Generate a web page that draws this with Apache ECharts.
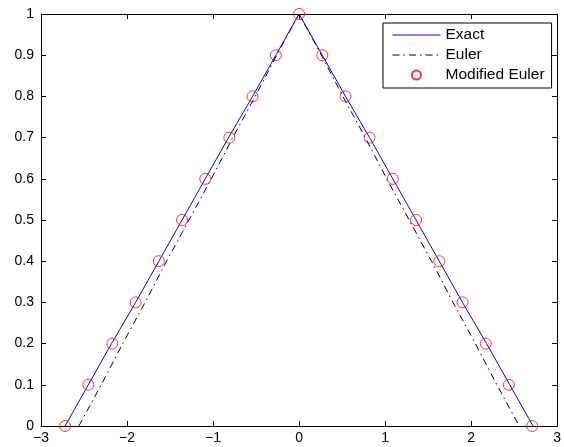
<!DOCTYPE html>
<html><head><meta charset="utf-8">
<script src="https://cdn.jsdelivr.net/npm/echarts@6/dist/echarts.min.js"></script>
<style>html,body{margin:0;padding:0;background:#fff}#c{width:564px;height:447px}</style>
</head><body><div id="c"></div>
<script>
var yValues = [0, 0.1, 0.2, 0.3, 0.4, 0.5, 0.6, 0.7, 0.8, 0.9, 1];
var exactLeftX = [-2.72, -2.45, -2.18, -1.90, -1.63, -1.36, -1.09, -0.82, -0.54, -0.27, 0];
var exactRightX = [2.72, 2.45, 2.18, 1.90, 1.63, 1.36, 1.09, 0.82, 0.54, 0.27, 0];
var eulerLeftX = [-2.56, -2.30, -2.05, -1.79, -1.54, -1.28, -1.02, -0.77, -0.51, -0.26, 0];
var eulerRightX = [2.56, 2.30, 2.05, 1.79, 1.54, 1.28, 1.02, 0.77, 0.51, 0.26, 0];
var modLeftX = [-2.72, -2.45, -2.17, -1.90, -1.63, -1.36, -1.09, -0.81, -0.54, -0.27, 0];
var modRightX = [2.71, 2.44, 2.17, 1.90, 1.63, 1.36, 1.09, 0.82, 0.54, 0.27];
var xTicks = [-3, -2, -1, 0, 1, 2, 3];

function pairs(xs, ys) { return xs.map(function (x, i) { return [x, ys[i]]; }); }
function tri(left, right) {
  var a = pairs(left, yValues);
  var b = pairs(right, yValues).reverse();
  return a.concat(b.slice(1));
}
var exactData = tri(exactLeftX, exactRightX);
var eulerData = tri(eulerLeftX, eulerRightX);
var modData = pairs(modLeftX, yValues).concat(pairs(modRightX, yValues));

var font = 'Liberation Sans, Arial, Helvetica, sans-serif';
function fmtX(v) { return String(v).replace('-', '\u2212'); }
function baseAxis() {
  return {
    type: 'value',
    axisLine: { show: true, onZero: false, lineStyle: { color: '#000', width: 1 } },
    axisTick: { show: true, inside: true, length: 5, lineStyle: { color: '#000' } },
    splitLine: { show: false }
  };
}
var chart = echarts.init(document.getElementById('c'), null, { renderer: 'canvas' });
chart.setOption({
  animation: false,
  backgroundColor: '#fff',
  grid: { left: 41, right: 1, top: 14, bottom: 21, containLabel: false },
  xAxis: [
    Object.assign(baseAxis(), { min: -3, max: 3, interval: 1, position: 'bottom',
      axisLabel: { color: '#000', fontFamily: font, fontSize: 14, margin: 5, formatter: fmtX } }),
    Object.assign(baseAxis(), { min: -3, max: 3, interval: 1, position: 'top',
      axisLabel: { show: false } })
  ],
  yAxis: [
    Object.assign(baseAxis(), { min: 0, max: 1, interval: 0.1, position: 'left',
      axisLabel: { color: '#000', fontFamily: font, fontSize: 14, margin: 7 } }),
    Object.assign(baseAxis(), { min: 0, max: 1, interval: 0.1, position: 'right',
      axisLabel: { show: false } })
  ],
  legend: {
    orient: 'vertical', left: 383, top: 23,
    padding: [3, 7, 4, 9], itemGap: 2, itemWidth: 48, itemHeight: 9, itemTextGap: 6,
    borderColor: '#000', borderWidth: 1, backgroundColor: '#fff', borderRadius: 0,
    textStyle: { color: '#000', fontFamily: font, fontSize: 15.5, lineHeight: 18 },
    data: [
      { name: 'Exact', itemStyle: { opacity: 0 }, lineStyle: { width: 1 } },
      { name: 'Euler', itemStyle: { opacity: 0 }, lineStyle: { width: 1, type: [7, 4, 1.5, 4] } },
      { name: 'Modified Euler' }
    ]
  },
  series: [
    { name: 'Exact', type: 'line', data: exactData, symbol: 'none', showSymbol: false,
      lineStyle: { color: '#0000ff', width: 1 }, itemStyle: { color: '#0000ff' }, z: 3 },
    { name: 'Euler', type: 'line', data: eulerData, symbol: 'none', showSymbol: false,
      lineStyle: { color: '#000', width: 1, type: [7, 4, 1.5, 4] }, itemStyle: { color: '#000' }, z: 2 },
    { name: 'Modified Euler', type: 'scatter', data: modData, symbol: 'circle', symbolSize: 11,
      itemStyle: { color: 'rgba(0,0,0,0)', borderColor: '#ff0000', borderWidth: 1 }, z: 4 }
  ]
});
</script></body></html>
